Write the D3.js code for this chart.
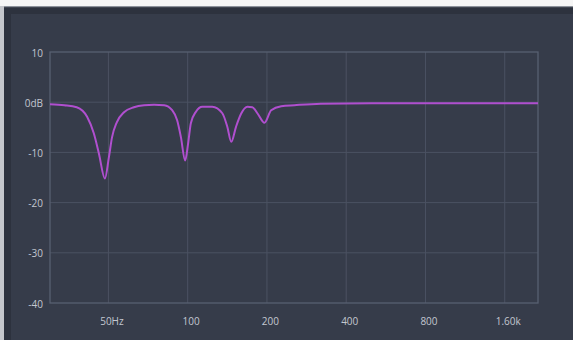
<!DOCTYPE html>
<html>
<head>
<meta charset="utf-8">
<script src="https://cdn.jsdelivr.net/npm/d3@7"></script>
<style>
  html, body { margin: 0; padding: 0; background: #f5f5f5; }
  svg { display: block; }
</style>
</head>
<body>
<svg id="chart" width="573" height="340"></svg>
<script>
// ---- data ----
const freqs = [30, 34, 37.9, 41.5, 44.0, 46.0, 48.5, 50.2, 51.6, 53.8, 57.3, 62.5, 68.3, 74.5, 81.4,
  87.3, 91.2, 94.2, 97.8, 100.4, 102.8, 107.5, 113.6, 124, 135.4, 141.4, 146.4, 152.6, 159.5,
  168.6, 176, 184.5, 195.7, 207.5, 226.6, 254.6, 320, 500, 1000, 2140];
const gainDb = [-0.4, -0.6, -1.0, -2.9, -6.2, -10.2, -15.2, -11, -7, -4, -2, -1, -0.6, -0.5, -0.6,
  -1.6, -3.6, -6.9, -11.6, -8.2, -4.2, -1.9, -0.9, -0.9, -2.2, -4.9, -7.9, -4.9, -2.3,
  -0.9, -1.0, -2.3, -4.1, -1.6, -0.8, -0.6, -0.3, -0.2, -0.2, -0.2];
const xTicks = [50, 100, 200, 400, 800, 1600];
const xTickLabels = ["50Hz", "100", "200", "400", "800", "1.60k"];
const yTicks = [10, 0, -10, -20, -30, -40];
const yTickLabels = ["10", "0dB", "-10", "-20", "-30", "-40"];

const svg = d3.select("#chart");

// frame / panel
svg.append("rect").attr("x", 0).attr("y", 0).attr("width", 573).attr("height", 340).attr("fill", "#f5f5f5");
svg.append("rect").attr("x", 0).attr("y", 6).attr("width", 5).attr("height", 334).attr("fill", "#c4c6cb");
svg.append("rect").attr("x", 4).attr("y", 6).attr("width", 569).attr("height", 334).attr("fill", "#2d323e");
svg.append("rect").attr("x", 4).attr("y", 6).attr("width", 569).attr("height", 1.2).attr("fill", "#8d929b");
svg.append("rect").attr("x", 11).attr("y", 14).attr("width", 562).attr("height", 326).attr("fill", "#363c4a");

const L = 50, R = 538, T = 52, B = 303;
const x = d3.scaleLog().domain([30, 2140]).range([L, R]);
const y = d3.scaleLinear().domain([-40, 10]).range([B, T]);

const g = svg.append("g");

// grid
g.selectAll("line.vg").data(xTicks).join("line")
  .attr("x1", d => x(d)).attr("x2", d => x(d)).attr("y1", T).attr("y2", B)
  .attr("stroke", "#4b5262").attr("stroke-width", 1);
g.selectAll("line.hg").data(yTicks.filter(d => d < 10 && d > -40)).join("line")
  .attr("x1", L).attr("x2", R).attr("y1", d => y(d)).attr("y2", d => y(d))
  .attr("stroke", "#4b5262").attr("stroke-width", 1);

// plot frame
g.append("rect").attr("x", L).attr("y", T).attr("width", R - L).attr("height", B - T)
  .attr("fill", "none").attr("stroke", "#586071").attr("stroke-width", 1.3);

// axes labels
const xAxis = d3.axisBottom(x).tickValues(xTicks).tickSize(0)
  .tickFormat((d, i) => xTickLabels[i]);
const xa = svg.append("g").attr("transform", `translate(0,${B})`).call(xAxis);
xa.select(".domain").remove();
xa.selectAll("text").attr("dy", null).attr("y", 18).attr("dx", 3)
  .attr("dominant-baseline", "central")
  .attr("fill", "#c3c7d0").attr("font-family", "'Open Sans', sans-serif").attr("font-size", 10);

const yAxis = d3.axisLeft(y).tickValues(yTicks).tickSize(0)
  .tickFormat((d, i) => yTickLabels[i]);
const ya = svg.append("g").attr("transform", `translate(${L},0)`).call(yAxis);
ya.select(".domain").remove();
ya.selectAll("text").attr("dy", null).attr("x", -7)
  .attr("dominant-baseline", "central")
  .attr("fill", "#c3c7d0").attr("font-family", "'Open Sans', sans-serif").attr("font-size", 10);

// response curve
const pts = freqs.map((f, i) => [f, gainDb[i]]);
const line = d3.line().x(d => x(d[0])).y(d => y(d[1])).curve(d3.curveMonotoneX);
g.append("path").datum(pts).attr("d", line)
  .attr("fill", "none").attr("stroke", "#b04fcf").attr("stroke-width", 2)
  .attr("stroke-linejoin", "round");
</script>
</body>
</html>
